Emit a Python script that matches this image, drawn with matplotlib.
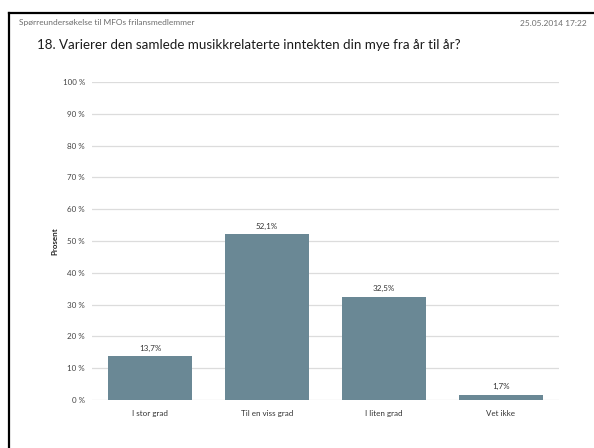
import matplotlib
matplotlib.use("Agg")
import matplotlib.pyplot as plt
from matplotlib.lines import Line2D

categories = ["I stor grad", "Til en viss grad", "I liten grad", "Vet ikke"]
values = [13.7, 52.1, 32.5, 1.7]
yticks = [0, 10, 20, 30, 40, 50, 60, 70, 80, 90, 100]

header_left = "Spørreundersøkelse til MFOs frilansmedlemmer"
header_right = "25.05.2014 17:22"
title = "18. Varierer den samlede musikkrelaterte inntekten din mye fra år til år?"

plt.rcParams["font.family"] = ["Lato", "DejaVu Sans"]

fig = plt.figure(figsize=(5.94, 4.48), dpi=100)
W, H = 594, 448

# page frame (top and left rules)
fig.add_artist(Line2D([9 / W, 1.0], [1 - 13 / H, 1 - 13 / H], color="black", lw=1.6,
                      transform=fig.transFigure))
fig.add_artist(Line2D([9 / W, 9 / W], [1 - 13 / H, 0.0], color="black", lw=1.6,
                      transform=fig.transFigure))

fig.text(19 / W, 1 - 23 / H, header_left, fontsize=6.0, color="#6d6d6d", va="center", ha="left")
fig.text(587 / W, 1 - 23 / H, header_right, fontsize=6.0, color="#6d6d6d", va="center", ha="right")
fig.text(37 / W, 1 - 45 / H, title, fontsize=9.6, color="#1a1a1a", va="center", ha="left")

ax = fig.add_axes([92 / W, 48 / H, 467 / W, 318 / H])
x = range(len(categories))
bars = ax.bar(x, values, width=0.72, color="#6a8895", zorder=3)
for xi, v in zip(x, values):
    ax.text(xi, v + 1.5, f"{v:.1f}%".replace(".", ","), ha="center", va="bottom",
            fontsize=5.8, color="#333333")

ax.set_xlim(-0.5, len(categories) - 0.5)
ax.set_ylim(0, 100)
ax.set_yticks(yticks)
ax.set_yticklabels([f"{t} %" for t in yticks], fontsize=5.8, color="#444444")
ax.set_xticks(list(x))
ax.set_xticklabels(categories, fontsize=5.8, color="#333333")
ax.tick_params(axis="y", length=0, pad=5)
ax.tick_params(axis="x", length=0, pad=7)
ax.grid(axis="y", color="#dcdcdc", lw=0.9, zorder=0)
for s in ax.spines.values():
    s.set_visible(False)
ax.set_ylabel("Prosent", fontsize=5.8, fontweight="bold", color="#222222")
ax.yaxis.set_label_coords(-0.073, 0.5)

fig.savefig("out.png", dpi=100)
